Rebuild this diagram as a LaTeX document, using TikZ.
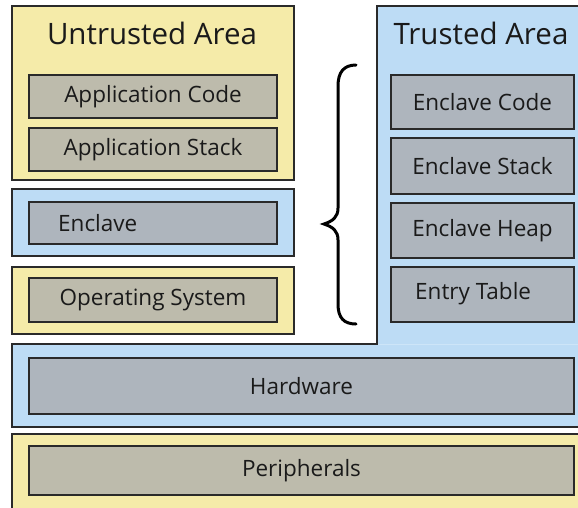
\documentclass[tikz,border=0pt]{standalone}
\usepackage{fontspec}
\setmainfont{Open Sans}
\definecolor{ylw}{HTML}{F5EBA9}
\definecolor{blu}{HTML}{BDDCF5}
\definecolor{gy}{HTML}{BDBBAC}
\definecolor{gb}{HTML}{AEB5BD}
\definecolor{bordc}{HTML}{2A2A2A}
\definecolor{faint}{HTML}{CDE5F8}
\definecolor{txtc}{HTML}{1A1A1A}
\begin{document}
\begin{tikzpicture}[x=1pt,y=-1pt,
  outer/.style={draw=bordc, line width=1.3pt, inner sep=0pt},
  inbox/.style={draw=bordc, line width=1.3pt, inner sep=0pt, text=txtc, font=\fontsize{22.5}{22.5}\selectfont},
  ttl/.style={text=txtc, inner sep=0pt, font=\fontsize{29.5}{29.5}\selectfont},
  lbl/.style={text=txtc, inner sep=0pt, font=\fontsize{22.5}{22.5}\selectfont}]
\clip (0,0) rectangle (578,507);
\fill[white] (0,0) rectangle (578,507);
% untrusted area
\node[outer, fill=ylw, minimum width=282pt, minimum height=174pt] (untr) at (153,93) {};
\node[ttl] (untrt) at (152,33) {Untrusted Area};
\node[inbox, fill=gy, minimum width=248pt, minimum height=43pt] (appcode) at (153,96.5) {Application Code};
\node[inbox, fill=gy, minimum width=248pt, minimum height=43pt] (appstack) at (153,149.5) {Application Stack};
% enclave
\node[outer, fill=blu, minimum width=282pt, minimum height=67pt] (encl) at (153,222.5) {};
\node[inbox, fill=gb, minimum width=248pt, minimum height=42pt] (enclin) at (153,223) {};
\node[lbl, anchor=west] (encltxt) at (58,223) {Enclave};
% operating system
\node[outer, fill=ylw, minimum width=282pt, minimum height=67pt] (os) at (153,300.5) {};
\node[inbox, fill=gy, minimum width=248pt, minimum height=44pt] (osin) at (153,300) {Operating System};
% trusted area + hardware (L shape)
\draw[line width=1.3pt, draw=bordc, fill=blu] (377,6) -- (600,6) -- (600,427) -- (12,427) -- (12,344) -- (377,344) -- cycle;
\draw[faint, line width=0.8pt] (378,344.5) -- (600,344.5);
\node[ttl] (trt) at (481,33) {Trusted Area};
\node[inbox, fill=gb, minimum width=183pt, minimum height=54pt] (ecode) at (482.5,102) {Enclave Code};
\node[inbox, fill=gb, minimum width=183pt, minimum height=56pt] (estack) at (482.5,166) {Enclave Stack};
\node[inbox, fill=gb, minimum width=183pt, minimum height=55pt] (eheap) at (482.5,230.5) {Enclave Heap};
\node[inbox, fill=gb, minimum width=183pt, minimum height=55pt] (etab) at (482.5,294.5) {};
\node[lbl, anchor=west] (etabt) at (415,294) {Entry Table};
\node[inbox, fill=gb, minimum width=545pt, minimum height=56pt] (hw) at (301.5,386) {Hardware};
% peripherals
\node[outer, fill=ylw, minimum width=600pt, minimum height=90pt] (peri) at (312,479) {};
\node[inbox, fill=gy, minimum width=545pt, minimum height=49pt] (periin) at (301.5,470.5) {Peripherals};
% brace
\draw[line width=3pt, line cap=round, black] (356,65) .. controls (344,65) and (338,72) .. (338,86) -- (338,208) .. controls (338,217) and (333,221) .. (324,224) .. controls (333,227) and (338,231) .. (338,240) -- (338,304) .. controls (338,318) and (344,324) .. (356,324);
\end{tikzpicture}
\end{document}
